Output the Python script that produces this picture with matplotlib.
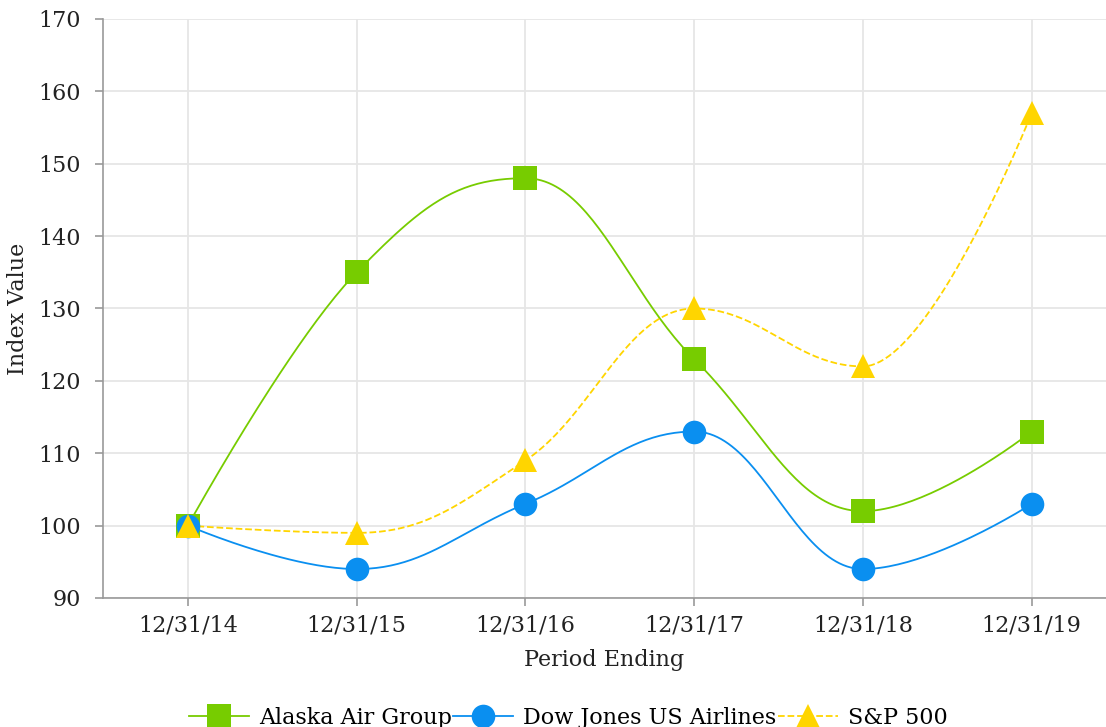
import numpy as np
import matplotlib
matplotlib.use("Agg")
import matplotlib.pyplot as plt

periods = ["12/31/14", "12/31/15", "12/31/16", "12/31/17", "12/31/18", "12/31/19"]
alaska = [100, 135, 148, 123, 102, 113]
dowjones = [100, 94, 103, 113, 94, 103]
sp500 = [100, 99, 109, 130, 122, 157]

plt.rcParams['font.family'] = ['DejaVu Serif']


def spline_path(x, y, n=50, smoothing=1.5):
    """Bezier spline through points with clamped control points."""
    x = np.asarray(x, float)
    y = np.asarray(y, float)
    m = len(x)
    lcx, lcy = x.copy(), y.copy()
    rcx, rcy = x.copy(), y.copy()
    denom = smoothing + 1
    for i in range(1, m - 1):
        px, py = x[i], y[i]
        lx, ly = x[i - 1], y[i - 1]
        nx, ny = x[i + 1], y[i + 1]
        lxc = (smoothing * px + lx) / denom
        lyc = (smoothing * py + ly) / denom
        rxc = (smoothing * px + nx) / denom
        ryc = (smoothing * py + ny) / denom
        corr = ((ryc - lyc) * (rxc - px)) / (rxc - lxc) + py - ryc
        lyc += corr
        ryc += corr
        if lyc > ly and lyc > py:
            lyc = max(ly, py)
            ryc = 2 * py - lyc
        elif lyc < ly and lyc < py:
            lyc = min(ly, py)
            ryc = 2 * py - lyc
        if ryc > ny and ryc > py:
            ryc = max(ny, py)
            lyc = 2 * py - ryc
        elif ryc < ny and ryc < py:
            ryc = min(ny, py)
            lyc = 2 * py - ryc
        lcx[i], lcy[i], rcx[i], rcy[i] = lxc, lyc, rxc, ryc
    t = np.linspace(0, 1, n)[:, None]
    xs, ys = [], []
    for i in range(m - 1):
        P = np.array([[x[i], y[i]], [rcx[i], rcy[i]],
                      [lcx[i + 1], lcy[i + 1]], [x[i + 1], y[i + 1]]])
        B = ((1 - t) ** 3) * P[0] + 3 * ((1 - t) ** 2) * t * P[1] \
            + 3 * (1 - t) * t ** 2 * P[2] + t ** 3 * P[3]
        xs.append(B[:, 0])
        ys.append(B[:, 1])
    return np.concatenate(xs), np.concatenate(ys)


fig = plt.figure(figsize=(11.06, 7.27), dpi=100)
ax = fig.add_axes([103 / 1106, 129 / 727, 1 - 103 / 1106, (598 - 19) / 727])

xpos = np.arange(len(periods))
series = [
    ("Alaska Air Group", alaska, "#77cc00", "s", "-", 17),
    ("Dow Jones US Airlines", dowjones, "#0a8ff0", "o", "-", 17),
    ("S&P 500", sp500, "#ffd500", "^", "--", 17),
]
for name, vals, col, mk, ls, ms in series:
    sx, sy = spline_path(xpos, vals)
    ax.plot(sx, sy, color=col, lw=1.3, ls=ls, zorder=3)
    ax.plot(xpos, vals, ls="none", marker=mk, ms=ms, color=col,
            markeredgewidth=0, zorder=4)
    ax.plot([], [], color=col, lw=1.3, ls=ls, marker=mk, ms=ms,
            markeredgewidth=0, label=name)

ax.set_xlim(-0.503, 5.44)
ax.set_ylim(90, 170)
ax.set_yticks(range(90, 171, 10))
ax.set_xticks(xpos)
ax.set_xticklabels(periods)
ax.grid(True, color="#e6e6e6", lw=1.3)
ax.set_axisbelow(True)
for s in ["top", "right"]:
    ax.spines[s].set_visible(False)
for s in ["left", "bottom"]:
    ax.spines[s].set_color("#999999")
    ax.spines[s].set_linewidth(1.2)
ax.tick_params(axis="both", colors="#999999", labelcolor="#222222",
               labelsize=16, length=6, width=1.2)
ax.tick_params(axis="y", pad=10)
ax.tick_params(axis="x", pad=6)
ax.set_xlabel("Period Ending", fontsize=16, color="#222222", labelpad=9)
ax.set_ylabel("Index Value", fontsize=16, color="#222222")
ax.yaxis.set_label_coords(-74 / 1003, 0.5)

leg = fig.legend(loc="center", bbox_to_anchor=(0.514, 9 / 727),
                 ncol=3, frameon=False, fontsize=16, handlelength=2.7,
                 columnspacing=0.05, handletextpad=0.45)

fig.savefig("out.png", dpi=100)
